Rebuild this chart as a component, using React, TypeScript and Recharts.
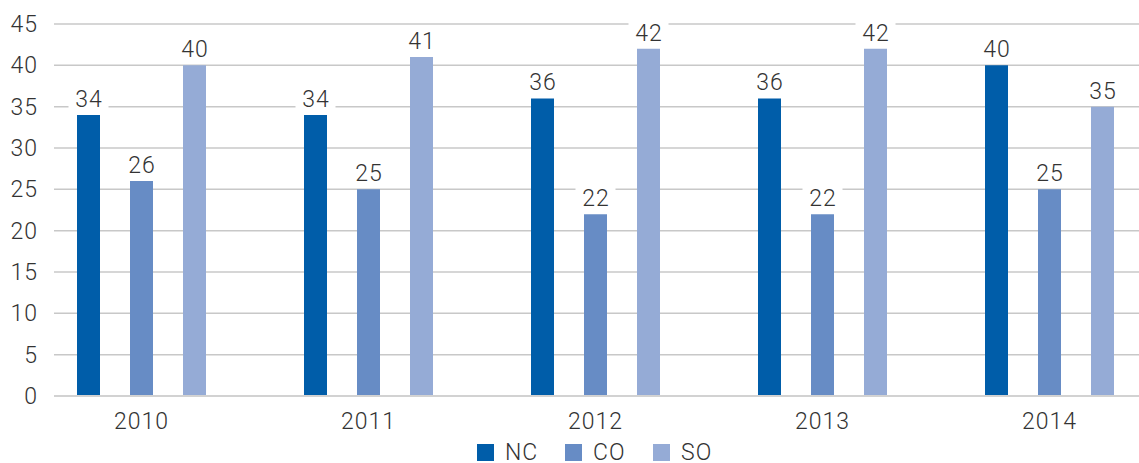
import React from "react";
import { BarChart, Bar, XAxis, YAxis, CartesianGrid, Legend, LabelList } from "recharts";

const years = ["2010", "2011", "2012", "2013", "2014"];
const nc = [34, 34, 36, 36, 40];
const co = [26, 25, 22, 22, 25];
const so = [40, 41, 42, 42, 35];
// empty fourth slot, the source leaves room for it in each group
const spare = [null, null, null, null, null];
const yTicks = [0, 5, 10, 15, 20, 25, 30, 35, 40, 45];

const SERIES = [
  { key: "NC", color: "#005DA9" },
  { key: "CO", color: "#678CC5" },
  { key: "SO", color: "#95ABD6" },
];

const data = years.map((year, i) => ({ year, NC: nc[i], CO: co[i], SO: so[i], spare: spare[i] }));

const FONT = "Roboto, 'Liberation Sans', Arial, sans-serif";
const FS = 23;
const textStyle = { fontFamily: FONT, fontWeight: 300, letterSpacing: 1 };

// value label with a white box behind it, so the gridline breaks around it
function ValueLabel(props: any) {
  const { x, y, width, value } = props;
  if (value == null) return null;
  const cx = x + width / 2;
  const w = String(value).length * 14 + 12;
  return (
    <g>
      <rect x={cx - w / 2} y={y - 27} width={w} height={24} fill="#ffffff" />
      <text x={cx + 0.5} y={y - 8} textAnchor="middle" fontSize={FS} fill="#333333" style={textStyle}>
        {value}
      </text>
    </g>
  );
}

function LegendBox() {
  return (
    <div style={{ display: "flex", fontFamily: FONT, fontWeight: 300, fontSize: FS, color: "#333", letterSpacing: 1 }}>
      {SERIES.map((s) => (
        <div key={s.key} style={{ width: 88, display: "flex", alignItems: "center", height: 17 }}>
          <span style={{ width: 17, height: 17, background: s.color, marginRight: 11, display: "block", flexShrink: 0 }} />
          <span style={{ display: "block", height: 17, lineHeight: "17px", whiteSpace: "nowrap" }}>{s.key}</span>
        </div>
      ))}
    </div>
  );
}

export default function App() {
  return (
    <div style={{ position: "fixed", left: 0, top: 0, width: 1139, height: 463, overflow: "hidden", background: "#fff" }}>
      <BarChart
        width={1200}
        height={463}
        data={data}
        margin={{ top: 24, right: 11, bottom: 37, left: 0 }}
        barSize={23}
        barGap={30}
      >
        <CartesianGrid vertical={false} stroke="#c8c8c8" strokeWidth={1.5} />
        <XAxis
          dataKey="year"
          height={30}
          axisLine={{ stroke: "#d2d2d2", strokeWidth: 2 }}
          tickLine={false}
          tickSize={0}
          tickMargin={17}
          tick={{ fill: "#333333", fontSize: FS, dx: -26, style: textStyle }}
        />
        <YAxis
          width={54}
          domain={[0, 45]}
          ticks={yTicks}
          axisLine={false}
          tickLine={false}
          tickSize={0}
          tickMargin={16}
          tick={{ fill: "#333333", fontSize: FS, style: textStyle }}
        />
        <Legend
          layout="horizontal"
          verticalAlign="middle"
          align="center"
          content={() => <LegendBox />}
          wrapperStyle={{ position: "absolute", left: 477, top: 444, width: 280, height: 17 }}
        />
        {SERIES.map((s) => (
          <Bar key={s.key} dataKey={s.key} fill={s.color} isAnimationActive={false}>
            <LabelList dataKey={s.key} content={ValueLabel} />
          </Bar>
        ))}
        <Bar dataKey="spare" fill="none" legendType="none" isAnimationActive={false} />
      </BarChart>
    </div>
  );
}
